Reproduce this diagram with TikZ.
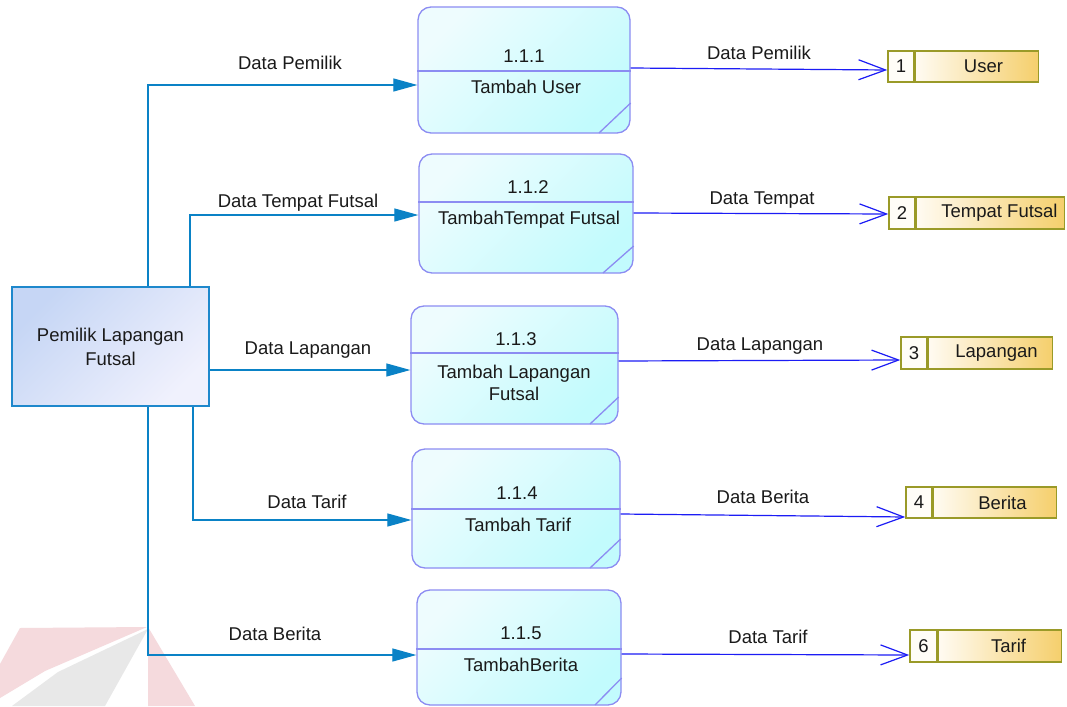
\documentclass[tikz,border=0pt]{standalone}
\usepackage{fontspec}
\setmainfont{Liberation Sans}
\usetikzlibrary{arrows.meta}
\definecolor{procA}{HTML}{EEFCFE}
\definecolor{procB}{HTML}{C2FBFD}
\definecolor{procedge}{HTML}{8C8CF2}
\definecolor{entA}{HTML}{C6D6F5}
\definecolor{entB}{HTML}{F0F1FD}
\definecolor{entedge}{HTML}{1E88CC}
\definecolor{storeA}{HTML}{FFFBF2}
\definecolor{storeB}{HTML}{F5CF6C}
\definecolor{storenum}{HTML}{FFFDF7}
\definecolor{storeedge}{HTML}{9A9A28}
\definecolor{inblue}{HTML}{0A82C6}
\definecolor{outblue}{HTML}{1C1CF5}
\definecolor{txt}{HTML}{1A1A1A}
\definecolor{wmpink}{HTML}{F5DADD}
\definecolor{wmgray}{HTML}{E8E8E8}
\begin{document}
\begin{tikzpicture}[x=1pt,y=-1pt,
  every node/.style={font=\fontsize{18.5}{24}\selectfont, text=txt, inner sep=0pt},
  lbl/.style={text height=13.2pt, text depth=0pt},
  proc/.style={draw=procedge, line width=1.3pt, rounded corners=13pt, shade, top color=procA, bottom color=procB, shading angle=45},
  procline/.style={draw=procedge, line width=1.3pt},
  entity/.style={draw=entedge, line width=1.2pt, shade, top color=entA, bottom color=entB, shading angle=45, align=center},
  storenumbox/.style={draw=storeedge, line width=1.5pt, fill=storenum},
  storenamebox/.style={draw=storeedge, line width=1.5pt, left color=storeA, right color=storeB},
  inflow/.style={draw=inblue, line width=1.2pt, -{Triangle[length=24pt,width=13pt]}},
  outflow/.style={draw=outblue, line width=1.2pt, -{Straight Barb[length=27pt,width=20pt]}}
]
\useasboundingbox (0,0) rectangle (1067,706);
\fill[white] (0,0) rectangle (1067,706);
% watermark
\fill[wmpink] (20,628) -- (147,627) -- (45,671) -- (0,698) -- (0,664) -- cycle;
\fill[wmgray] (148,629) -- (105,706) -- (12,706) -- (58,672) -- cycle;
\fill[wmpink] (148,627) -- (195,706) -- (148,706) -- cycle;

% external entity
\node[entity, minimum width=197pt, minimum height=119pt] (e) at (110.5,346.5) {Pemilik Lapangan\\Futsal};

% processes
\node[proc, minimum width=212pt, minimum height=126pt] (p1) at (524,70) {};
\node[proc, minimum width=214pt, minimum height=119pt] (p2) at (526,213.5) {};
\node[proc, minimum width=207pt, minimum height=118pt] (p3) at (514.5,365) {};
\node[proc, minimum width=208pt, minimum height=119pt] (p4) at (516,508.5) {};
\node[proc, minimum width=204pt, minimum height=115pt] (p5) at (519,647.5) {};

\draw[procline] (p1.west |- 0,71) -- (p1.east |- 0,71);
\draw[procline] (p2.west |- 0,202) -- (p2.east |- 0,202);
\draw[procline] (p3.west |- 0,353) -- (p3.east |- 0,353);
\draw[procline] (p4.west |- 0,509) -- (p4.east |- 0,509);
\draw[procline] (p5.west |- 0,649) -- (p5.east |- 0,649);

\draw[procline] (p1.east |- 0,103) -- (599,133);
\draw[procline] (p2.east |- 0,246) -- (603,273);
\draw[procline] (p3.east |- 0,397) -- (590,424);
\draw[procline] (p4.east |- 0,539) -- (590,568);
\draw[procline] (p5.east |- 0,678) -- (595,705);

\node[lbl] (p1n) at (524,56) {1.1.1};
\node[lbl] (p1t) at (526,87) {Tambah User};
\node[lbl] (p2n) at (528,187) {1.1.2};
\node[lbl] (p2t) at (529,218) {TambahTempat Futsal};
\node[lbl] (p3n) at (516,339) {1.1.3};
\node[lbl] (p3t) at (514,372) {Tambah Lapangan};
\node[lbl] (p3u) at (514,394) {Futsal};
\node[lbl] (p4n) at (517,493) {1.1.4};
\node[lbl] (p4t) at (518,525) {Tambah Tarif};
\node[lbl] (p5n) at (521,633) {1.1.5};
\node[lbl] (p5t) at (521,665) {TambahBerita};

% data stores
\node[storenumbox, minimum width=26pt, minimum height=31pt] (s1n) at (901,66.5) {1};
\node[storenamebox, anchor=west, minimum width=123pt, minimum height=31pt] (s1) at (s1n.east) {\hspace*{13pt}User};
\node[storenumbox, minimum width=26pt, minimum height=32pt] (s2n) at (902,213) {2};
\node[storenamebox, anchor=west, minimum width=148pt, minimum height=32pt] (s2) at (s2n.east) {\hspace*{18pt}Tempat Futsal};
\node[storenumbox, minimum width=26pt, minimum height=32pt] (s3n) at (914,353) {3};
\node[storenamebox, anchor=west, minimum width=124pt, minimum height=32pt] (s3) at (s3n.east) {\hspace*{12pt}Lapangan};
\node[storenumbox, minimum width=26pt, minimum height=31pt] (s4n) at (919,502.5) {4};
\node[storenamebox, anchor=west, minimum width=123pt, minimum height=31pt] (s4) at (s4n.east) {\hspace*{15pt}Berita};
\node[storenumbox, minimum width=27pt, minimum height=32pt] (s6n) at (923.5,646) {6};
\node[storenamebox, anchor=west, minimum width=123pt, minimum height=32pt] (s6) at (s6n.east) {\hspace*{17pt}Tarif};

% flows from entity
\draw[inflow] (e.north -| 148,0) |- (p1.west |- 0,85);
\draw[inflow] (e.north -| 190,0) |- (p2.west |- 0,215);
\draw[inflow] (e.east |- 0,370) -- (p3.west |- 0,370);
\draw[inflow] (e.south -| 193,0) |- (p4.west |- 0,520);
\draw[inflow] (e.south -| 148,0) |- (p5.west |- 0,655);

\node[lbl] (l1) at (290,63) {Data Pemilik};
\node[lbl] (l2) at (298,201) {Data Tempat Futsal};
\node[lbl] (l3) at (308,348) {Data Lapangan};
\node[lbl] (l4) at (307,502) {Data Tarif};
\node[lbl] (l5) at (275,634) {Data Berita};

% flows to stores
\draw[outflow] (p1.east |- 0,68) -- (s1n.west |- 0,70);
\draw[outflow] (p2.east |- 0,213) -- (s2n.west |- 0,214);
\draw[outflow] (p3.east |- 0,361) -- (s3n.west |- 0,360);
\draw[outflow] (p4.east |- 0,514) -- (s4n.west |- 0,517);
\draw[outflow] (p5.east |- 0,654) -- (s6n.west |- 0,655);

\node[lbl] (r1) at (759,53) {Data Pemilik};
\node[lbl] (r2) at (762,198) {Data Tempat};
\node[lbl] (r3) at (760,344) {Data Lapangan};
\node[lbl] (r4) at (763,497) {Data Berita};
\node[lbl] (r5) at (768,637) {Data Tarif};
\end{tikzpicture}
\end{document}
